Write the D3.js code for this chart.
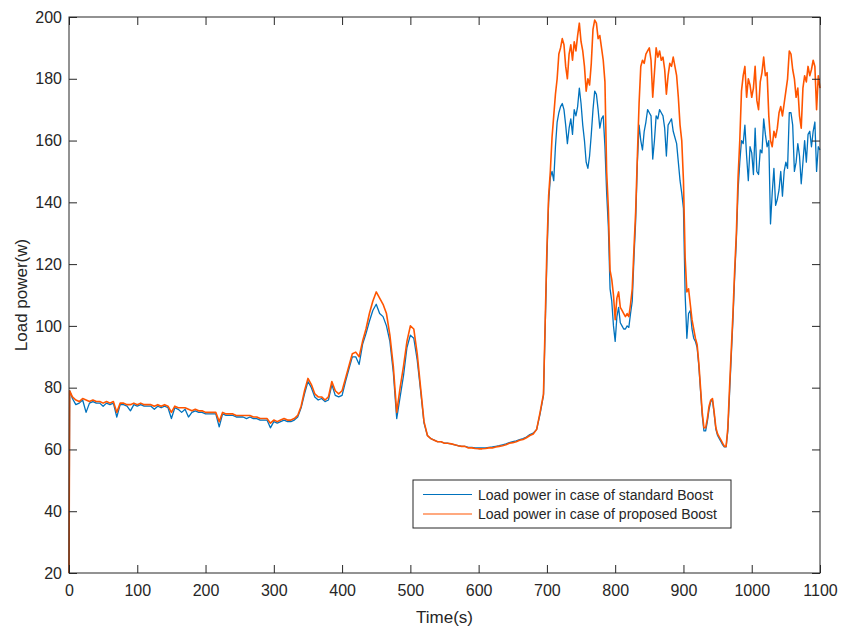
<!DOCTYPE html>
<html>
<head>
<meta charset="utf-8">
<script src="https://cdn.jsdelivr.net/npm/d3@7"></script>
<style>
  html, body { margin: 0; padding: 0; background: #fff; }
  svg text { font-family: "Liberation Sans", Arial, sans-serif; fill: #262626; }
</style>
</head>
<body>
<svg id="chart" width="842" height="630"></svg>
<script>
// Sample times (s): start-up point, every 5 s up to 695 s, every 2.5 s from 700 s on
const time = [0, 1].concat(d3.range(5, 700, 5), d3.range(700, 1100.01, 2.5));

// Load power (W) with the standard Boost converter
const standardBoost = [
  20, 79,
  // 5 s steps, 5 .. 695 s
  76.5, 74.5, 75, 76, 72, 75, 75.5, 75, 75, 74, 75, 74.5, 75, 70.5, 74.5, 74.5, 74, 72.5, 74.5, 74,
  74.5, 74, 74, 74, 73, 74, 73.5, 74, 73.5, 70, 73.5, 73, 72, 73, 70.5, 72, 72.5, 72, 72, 71.5,
  71.5, 71.5, 71.5, 67.3, 71.5, 71, 71, 71, 70.5, 70.5, 70.5, 70, 70.5, 70, 70, 69.5, 69.5, 69.5, 67, 69,
  68.5, 69, 69.5, 69, 69, 69.5, 70.5, 73.5, 78, 82, 80, 77, 76, 76.5, 75.5, 76, 81, 77.5, 77, 77.5,
  82, 86, 90, 90, 87.5, 94, 97.5, 101.5, 105, 107, 104, 103, 100, 95, 85, 70, 77, 84, 93, 97,
  96, 89, 79, 68.5, 64.5, 63.5, 63, 62.5, 62.5, 62, 62, 61.8, 61.5, 61.2, 61, 61, 60.7, 60.7, 60.5, 60.5,
  60.5, 60.5, 60.7, 60.8, 61, 61.2, 61.5, 61.8, 62.2, 62.5, 62.8, 63.2, 63.5, 64, 64.8, 65.3, 66.5, 71.5, 77.5,
  // 2.5 s steps, 700 .. 1100 s
  122, 140, 148, 150, 147, 158, 166, 169, 171, 172, 170, 165, 159, 164, 167, 162, 170, 168, 171, 177,
  172, 165, 160, 153, 151, 155, 162, 170, 176, 175, 170, 164, 167, 168, 158, 143, 132, 112, 108, 100,
  95, 103, 106, 101, 100, 99, 99, 100, 99.5, 104, 108, 122, 134, 153, 165, 160, 157, 163, 166, 170,
  169, 168, 154, 160, 168, 167, 170, 169, 168, 164, 155, 165, 166, 167, 163, 161, 159, 153, 147, 143,
  138, 110, 96, 104, 105, 99, 96, 95, 93, 87, 79, 71, 66, 66, 69, 73, 75.5, 76, 71.5, 66.5,
  64.5, 63.5, 62.5, 61.5, 60.8, 60.8, 66, 78, 90, 102, 116, 128, 144, 153, 160, 159, 165, 155, 147, 158,
  156, 149, 164, 150, 149, 157, 156, 167, 162, 158, 160, 133, 143, 151, 139, 141, 144, 150, 142, 150,
  153, 151, 169, 169, 165, 150, 153, 159, 155, 146, 153, 160, 153, 162, 163, 158, 163, 166, 150, 158,
  157
];

// Load power (W) with the proposed Boost converter
const proposedBoost = [
  20, 79,
  // 5 s steps, 5 .. 695 s
  77, 76, 75.5, 76.5, 76, 75.5, 76, 75.5, 75.5, 75, 75.5, 75, 75.5, 72, 75, 75, 74.5, 74.5, 75, 74.5,
  75, 74.5, 74.5, 74.5, 74, 74.5, 74, 74.5, 74, 72, 74, 73.5, 73.5, 73.5, 73, 72.5, 73, 72.5, 72.5, 72,
  72, 72, 72, 69, 72, 71.5, 71.5, 71.5, 71, 71, 71, 71, 71, 70.5, 70.5, 70, 70, 70, 68.5, 69.5,
  69, 69.5, 70, 69.5, 69.5, 70, 71, 74, 79, 83, 81, 78, 77, 77, 76, 77, 82, 79, 78, 79,
  83, 87, 91, 91.5, 90, 95, 99, 104, 108, 111, 109, 107, 104, 97, 87, 72, 80, 87, 95, 100,
  99, 91, 80, 69, 64.5, 63.5, 63, 62.5, 62.5, 62, 62, 61.8, 61.5, 61.2, 61, 61, 60.5, 60.5, 60.3, 60.2,
  60.2, 60.3, 60.5, 60.5, 60.8, 61, 61.2, 61.5, 62, 62.2, 62.5, 63, 63.2, 63.8, 64.5, 65, 66.5, 72, 78,
  // 2.5 s steps, 700 .. 1100 s
  125, 142, 150, 161, 168, 175, 180, 188, 190, 193, 191, 184, 180, 188, 191, 186, 192, 189, 194, 198,
  192, 189, 184, 176, 180, 178, 185, 196, 199, 198, 193, 194, 190, 186, 179, 150, 138, 118, 115, 110,
  102, 109, 111, 106, 105, 104, 103, 104, 103, 107, 112, 125, 137, 155, 172, 184, 186, 185, 188, 189,
  190, 186, 174, 182, 190, 187, 189, 186, 187, 183, 175, 181, 185, 184, 187, 184, 181, 174, 165, 160,
  147, 122, 111, 112, 107, 102, 99, 96, 94, 88, 80, 72, 67, 67, 70, 74, 76, 76.5, 72, 67,
  65, 64, 63, 62, 61, 61, 67, 80, 92, 104, 118, 130, 148, 160, 176, 181, 184, 174, 180, 178,
  174, 177, 184, 173, 170, 179, 182, 187, 181, 182, 168, 160, 158, 163, 161, 164, 169, 171, 168, 172,
  176, 180, 189, 188, 183, 180, 174, 177, 168, 164, 177, 181, 179, 184, 181, 183, 186, 184, 170, 181,
  177
];

const seriesNames = [
  "Load power in case of standard Boost",
  "Load power in case of proposed Boost"
];
const seriesColors = ["#0072BD", "#FF5500"];

const xTicks = [0, 100, 200, 300, 400, 500, 600, 700, 800, 900, 1000, 1100];
const yTicks = [20, 40, 60, 80, 100, 120, 140, 160, 180, 200];

const svg = d3.select("#chart");
const plot = { left: 69, top: 17, right: 820, bottom: 573 };

const x = d3.scaleLinear().domain([0, 1100]).range([plot.left, plot.right]);
const y = d3.scaleLinear().domain([20, 200]).range([plot.bottom, plot.top]);

// Data traces (proposed drawn over standard)
const line = d3.line()
  .x((d, i) => x(time[i]))
  .y(d => y(d));

const traces = svg.append("g");
[standardBoost, proposedBoost].forEach((vals, k) => {
  traces.append("path")
    .datum(vals)
    .attr("fill", "none")
    .attr("stroke", seriesColors[k])
    .attr("stroke-width", k === 1 ? 1.6 : 1.3)
    .attr("stroke-linejoin", "round")
    .attr("d", line);
});

// Axes with inward ticks on all four sides
const axisColor = "#262626";
const fmt = d3.format("d");
const gx = svg.append("g")
  .attr("transform", `translate(0,${plot.bottom})`)
  .call(d3.axisBottom(x).tickValues(xTicks).tickFormat(fmt).tickSizeInner(-8).tickSizeOuter(0).tickPadding(12));
const gxTop = svg.append("g")
  .attr("transform", `translate(0,${plot.top})`)
  .call(d3.axisTop(x).tickValues(xTicks).tickSizeInner(-8).tickSizeOuter(0).tickFormat(""));
const gy = svg.append("g")
  .attr("transform", `translate(${plot.left},0)`)
  .call(d3.axisLeft(y).tickValues(yTicks).tickFormat(fmt).tickSizeInner(-8).tickSizeOuter(0).tickPadding(7));
const gyRight = svg.append("g")
  .attr("transform", `translate(${plot.right},0)`)
  .call(d3.axisRight(y).tickValues(yTicks).tickSizeInner(-8).tickSizeOuter(0).tickFormat(""));

[gx, gxTop, gy, gyRight].forEach(g => {
  g.select(".domain").remove();
  g.selectAll(".tick line").attr("stroke", axisColor).attr("stroke-width", 1);
  g.selectAll(".tick text")
    .attr("font-family", "Liberation Sans, Arial, sans-serif")
    .attr("font-size", 16)
    .attr("fill", axisColor);
});

svg.append("rect")
  .attr("x", plot.left).attr("y", plot.top)
  .attr("width", plot.right - plot.left).attr("height", plot.bottom - plot.top)
  .attr("fill", "none").attr("stroke", axisColor).attr("stroke-width", 1);

// Axis titles
svg.append("text")
  .attr("x", (plot.left + plot.right) / 2).attr("y", 623)
  .attr("text-anchor", "middle").attr("font-size", 17)
  .text("Time(s)");
svg.append("text")
  .attr("transform", `translate(27,${(plot.top + plot.bottom) / 2}) rotate(-90)`)
  .attr("text-anchor", "middle").attr("font-size", 17)
  .text("Load power(w)");

// Legend
const legend = svg.append("g").attr("transform", "translate(413,480)");
legend.append("rect")
  .attr("width", 318).attr("height", 48)
  .attr("fill", "#fff").attr("stroke", "#262626").attr("stroke-width", 1);
seriesNames.forEach((name, i) => {
  const ly = 14.5 + i * 19.5;
  legend.append("line")
    .attr("x1", 10).attr("x2", 59).attr("y1", ly).attr("y2", ly)
    .attr("stroke", seriesColors[i]).attr("stroke-width", 1.2);
  legend.append("text")
    .attr("x", 65).attr("y", ly).attr("dy", "0.36em")
    .attr("font-size", 14)
    .text(name);
});
</script>
</body>
</html>
